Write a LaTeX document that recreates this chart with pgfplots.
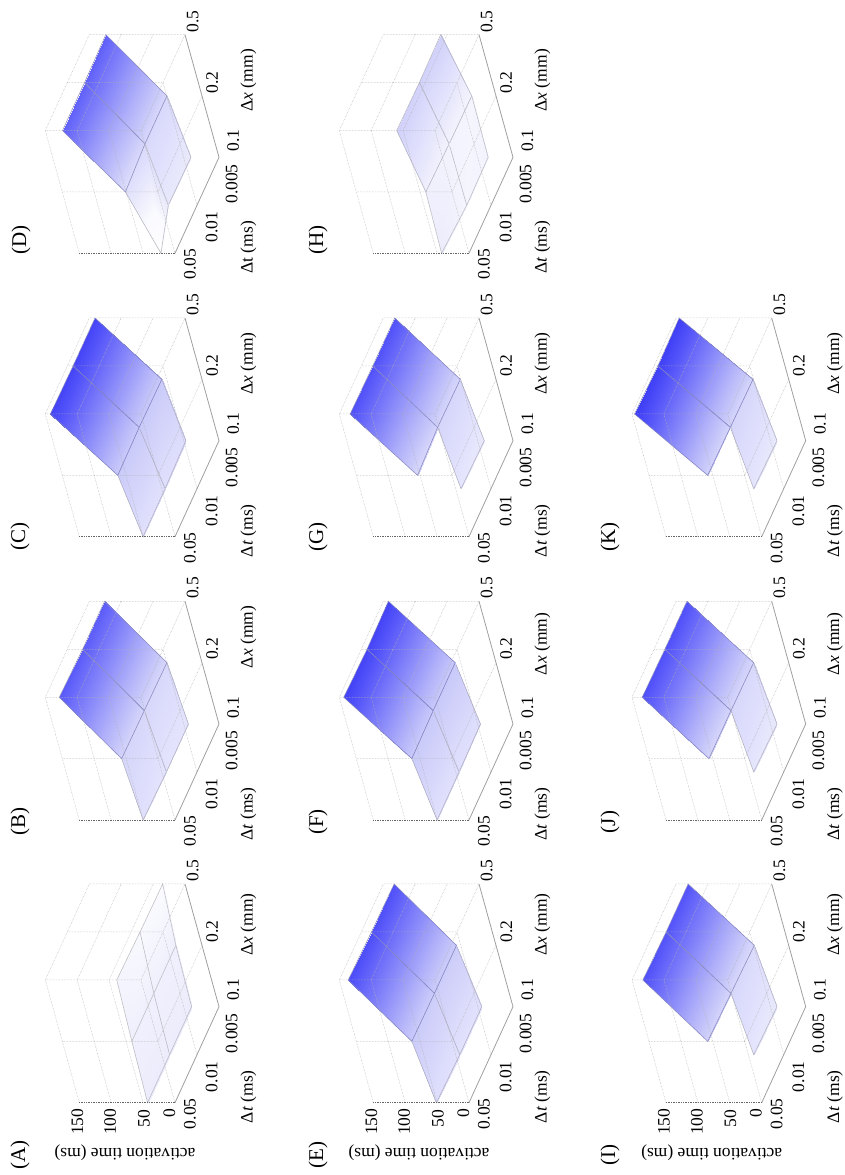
\documentclass[border=0pt]{standalone}
\usepackage{fontspec}
\setmainfont{Liberation Serif}
\usepackage{pgfplots}
\pgfplotsset{compat=1.18}

\pgfplotsset{
  panel/.style={
    anchor=origin,
    x={(-17pt,61.35pt)}, y={(22pt,48pt)}, z={(-0.638pt,0pt)},
    xmin=0, xmax=2, ymin=0, ymax=2, zmin=0, zmax=150,
    hide axis,
    colormap={wb}{rgb255(0)=(255,255,255) rgb255(20)=(255,255,255) rgb255(35)=(250,250,255)
      rgb255(43)=(236,236,252) rgb255(50)=(225,225,253) rgb255(60)=(208,208,250)
      rgb255(80)=(175,175,250) rgb255(130)=(85,85,250) rgb255(150)=(55,55,245)},
    point meta min=0, point meta max=150,
    clip=false,
  },
  sheet/.style={surf, shader=faceted interp, faceted color=mapped color!55!gray, line width=0.6pt,
    point meta=z, mesh/ordering=x varies},
}
\tikzset{
  griddot/.style={densely dotted, gray!60, line width=0.5pt},
  lab/.style={rotate=90, font=\fontsize{17.5}{20}\selectfont},
}
% box, grid and tick labels of one panel; #1 = distance of the dx label, #2 = t or \textit{t}
\newcommand{\panelframe}[2]{
  \draw[griddot] (1,0,0) -- (1,2,0) (0,1,0) -- (2,1,0) (0,0,0) -- (2,0,0) -- (2,2,0)
    (1,0,0) -- (1,0,150) (2,0,0) -- (2,0,150) (2,1,0) -- (2,1,150) (2,2,0) -- (2,2,150)
    (0,0,50) -- (2,0,50) -- (2,2,50) (0,0,100) -- (2,0,100) -- (2,2,100)
    (0,0,150) -- (2,0,150) -- (2,2,150);
  \draw[gray!75, line width=0.8pt] (0,0,0) -- (0,2,0) -- (2,2,0);
  \draw[densely dotted, gray!80!black, line width=0.7pt] (0,0,0) -- (0,0,150);
  \node[lab] at ([shift={(15pt,-11pt)}]0,0,0) {0.05};
  \node[lab] at ([shift={(14.7pt,-22pt)}]0,1,0) {0.01};
  \node[lab] at ([shift={(12.7pt,-26.7pt)}]0,2,0) {0.005};
  \node[lab] at ([shift={(14.3pt,16.7pt)}]0,2,0) {0.1};
  \node[lab] at ([shift={(10.3pt,13.7pt)}]1,2,0) {0.2};
  \node[lab] at ([shift={(7.7pt,13.3pt)}]2,2,0) {0.5};
  \node[lab] at ([shift={(73.3pt,#1pt)}]0,0,0) {Δ\textit{x} (mm)};
  \node[lab] at ([shift={(73.3pt,6pt)}]0,0,0) {Δ#2 (ms)};
}
\newcommand{\timelabels}{
  \node[lab] at ([shift={(-2pt,-19pt)}]0,0,150) {150};
  \node[lab] at ([shift={(-1pt,-19pt)}]0,0,100) {100};
  \node[lab] at ([shift={(0.7pt,-16pt)}]0,0,50) {50};
  \node[lab] at ([shift={(-5.7pt,-10pt)}]0,0,0) {0};
  \node[lab, rotate=90] at ([shift={(-50pt,-50pt)}]0,0,0) {activation time (ms)};
}
\newcommand{\paneltag}[3]{\node[rotate=90, font=\fontsize{21}{24}\selectfont] at (#1pt,#2pt) {(#3)};}

\begin{document}
\begin{tikzpicture}
\path[use as bounding box] (0,0) rectangle (845pt,1175pt);

% row 1
\begin{axis}[panel, at={(175pt,72.3pt)}]
\addplot3[sheet, mesh/rows=3, mesh/cols=3] coordinates {
 (0,0,43) (1,0,41) (2,0,38)
 (0,1,43) (1,1,41) (2,1,36)
 (0,2,43) (1,2,41) (2,2,35)};
\panelframe{178}{\textit{t}} \timelabels
\end{axis}
\paneltag{20}{20}{A}

\begin{axis}[panel, at={(175pt,355pt)}]
\addplot3[sheet, mesh/rows=3, mesh/cols=3] coordinates {
 (0,0,50) (1,0,57) (2,0,128)
 (0,1,48) (1,1,56) (2,1,126)
 (0,2,48) (1,2,55) (2,2,126)};
\panelframe{183}{\textit{t}}
\end{axis}
\paneltag{20}{353}{B}

\begin{axis}[panel, at={(175pt,638.3pt)}]
\addplot3[sheet, mesh/rows=3, mesh/cols=3] coordinates {
 (0,0,50) (1,0,63) (2,0,142)
 (0,1,50) (1,1,64) (2,1,141)
 (0,2,52) (1,2,63) (2,2,141)};
\panelframe{173}{\textit{t}}
\end{axis}
\paneltag{20}{638}{C}

\begin{axis}[panel, at={(175pt,921.7pt)}]
\addplot3[sheet, mesh/rows=3, mesh/cols=3] coordinates {
 (0,0,22) (1,0,51) (2,0,123)
 (0,1,45) (1,1,55) (2,1,123)
 (0,2,44) (1,2,55) (2,2,124)};
\panelframe{173}{t}
\end{axis}
\paneltag{21}{935}{D}

% row 2
\begin{axis}[panel, at={(469pt,72.3pt)}]
\addplot3[sheet, mesh/rows=3, mesh/cols=3] coordinates {
 (0,0,51) (1,0,63) (2,0,136)
 (0,1,49) (1,1,62) (2,1,134)
 (0,2,49) (1,2,62) (2,2,133)};
\panelframe{178}{\textit{t}} \timelabels
\end{axis}
\paneltag{318}{20}{E}

\begin{axis}[panel, at={(469pt,355pt)}]
\addplot3[sheet, mesh/rows=3, mesh/cols=3] coordinates {
 (0,0,50) (1,0,63) (2,0,143)
 (0,1,50) (1,1,64) (2,1,141)
 (0,2,51) (1,2,64) (2,2,142)};
\panelframe{176}{\textit{t}}
\end{axis}
\paneltag{318}{353}{F}

\begin{axis}[panel, at={(469pt,638.3pt)}]
\addplot3[sheet, mesh/rows=2, mesh/cols=2] coordinates {
 (0,1,47) (1,1,57)
 (0,2,45) (1,2,56)};
\addplot3[sheet, mesh/rows=3, mesh/cols=2] coordinates {
 (1,0,54) (2,0,133)
 (1,1,57) (2,1,132)
 (1,2,56) (2,2,132)};
\panelframe{173}{\textit{t}}
\end{axis}
\paneltag{318}{638}{G}

\begin{axis}[panel, at={(469pt,921.7pt)}]
\addplot3[sheet, mesh/rows=3, mesh/cols=3] coordinates {
 (0,0,43) (1,0,41) (2,0,60)
 (0,1,38) (1,1,39) (2,1,59)
 (0,2,39) (1,2,38) (2,2,60)};
\panelframe{173}{\textit{t}}
\end{axis}
\paneltag{318}{935}{H}

% row 3
\begin{axis}[panel, at={(761.7pt,72.3pt)}]
\addplot3[sheet, mesh/rows=2, mesh/cols=2] coordinates {
 (0,1,47) (1,1,56)
 (0,2,45) (1,2,54)};
\addplot3[sheet, mesh/rows=3, mesh/cols=2] coordinates {
 (1,0,58) (2,0,133)
 (1,1,56) (2,1,131)
 (1,2,54) (2,2,131)};
\panelframe{178}{\textit{t}} \timelabels
\end{axis}
\paneltag{610}{20}{I}

\begin{axis}[panel, at={(761.7pt,355pt)}]
\addplot3[sheet, mesh/rows=2, mesh/cols=2] coordinates {
 (0,1,47) (1,1,56)
 (0,2,45) (1,2,55)};
\addplot3[sheet, mesh/rows=3, mesh/cols=2] coordinates {
 (1,0,56) (2,0,134)
 (1,1,56) (2,1,133)
 (1,2,55) (2,2,133)};
\panelframe{176}{\textit{t}}
\end{axis}
\paneltag{610}{353}{J}

\begin{axis}[panel, at={(761.7pt,638.3pt)}]
\addplot3[sheet, mesh/rows=2, mesh/cols=2] coordinates {
 (0,1,47) (1,1,57)
 (0,2,45) (1,2,56)};
\addplot3[sheet, mesh/rows=3, mesh/cols=2] coordinates {
 (1,0,58) (2,0,146)
 (1,1,57) (2,1,144)
 (1,2,56) (2,2,145)};
\panelframe{173}{\textit{t}}
\end{axis}
\paneltag{610}{638}{K}
\end{tikzpicture}
\end{document}
